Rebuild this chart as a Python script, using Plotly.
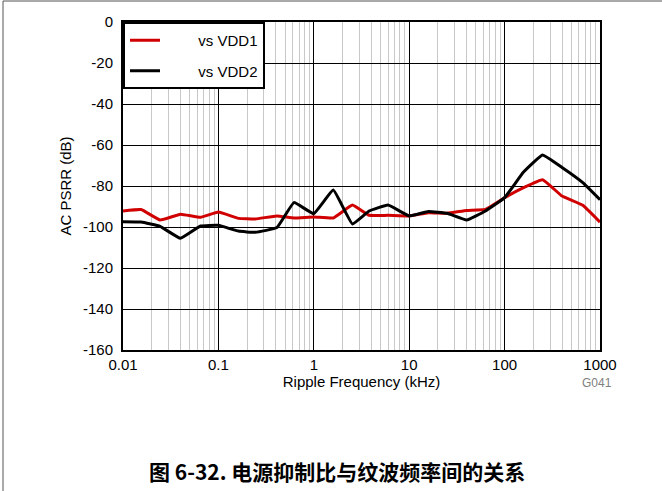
import plotly.graph_objects as go

# Data (frequency in kHz, PSRR in dB)
freq_khz = [0.01, 0.0155, 0.0245, 0.04, 0.065, 0.1, 0.162, 0.244, 0.41, 0.62, 1.0,
            1.6, 2.54, 3.8, 6.0, 10, 15.9, 25, 40, 63, 100, 158, 250, 400, 660, 1000]
psrr_vdd1 = [-92.2, -91.5, -96.6, -93.8, -95.3, -92.7, -95.8, -96.1, -94.6, -95.6, -95.1,
             -95.6, -89.3, -94.3, -94.3, -94.6, -93.0, -93.3, -91.9, -91.4, -85.7, -80.8,
             -76.9, -84.9, -89.4, -97.6]
psrr_vdd2 = [-97.4, -97.6, -99.7, -105.5, -99.5, -99.2, -102.0, -102.6, -100.3, -88.1, -93.5,
             -82.0, -98.5, -92.2, -89.3, -94.6, -92.4, -93.3, -96.6, -92.2, -85.7, -73.2,
             -64.9, -71.0, -78.4, -86.7]

series_names = ["vs VDD1", "vs VDD2"]
series_colors = ["#d10000", "#000000"]

x_tickvals = [0.01, 0.1, 1, 10, 100, 1000]
x_ticktext = ["0.01", "0.1", "1", "10", "100", "1000"]
y_tickvals = [0, -20, -40, -60, -80, -100, -120, -140, -160]
y_ticktext = ["0", "-20", "-40", "-60", "-80", "-100", "-120", "-140", "-160"]
minor_vals = [m * 10 ** e for e in range(-2, 3) for m in range(2, 10)]

FONT = "Liberation Sans, Arial, sans-serif"
NB = "\u00a0"

fig = go.Figure()
for name, ys, col in zip(series_names, [psrr_vdd1, psrr_vdd2], series_colors):
    fig.add_trace(go.Scatter(x=freq_khz, y=ys, mode="lines", name=NB * 8 + name,
                             legendgroup=name,
                             line=dict(color=col, width=3, shape="spline", smoothing=0.3)))

fig.update_layout(
    width=662, height=491,
    margin=dict(l=123, r=62, t=22, b=141),
    paper_bgcolor="white", plot_bgcolor="white",
    font=dict(family=FONT, size=15, color="black"),
    showlegend=True,
    legend=dict(x=0, y=1, xanchor="left", yanchor="top",
                bgcolor="white", bordercolor="black", borderwidth=2,
                font=dict(family=FONT, size=15), tracegroupgap=8,
                entrywidth=114, entrywidthmode="pixels"),
    xaxis=dict(type="log", range=[-2, 3], tickvals=x_tickvals, ticktext=x_ticktext,
               showgrid=True, gridcolor="black", gridwidth=1.4,
               showline=True, linecolor="black", linewidth=2, mirror=True,
               ticks="", zeroline=False, ticklabelstandoff=0,
               title=dict(text="Ripple Frequency (kHz)", font=dict(size=15), standoff=2),
               minor=dict(tickvals=minor_vals, showgrid=True, gridcolor="#c8c8c8",
                          gridwidth=1, ticks="")),
    yaxis=dict(range=[-160, 0], tickvals=y_tickvals, ticktext=y_ticktext,
               showgrid=True, gridcolor="black", gridwidth=1.4,
               showline=True, linecolor="black", linewidth=2, mirror=True,
               ticks="", zeroline=False, ticklabelstandoff=5,
               title=dict(text="AC PSRR (dB)", font=dict(size=15), standoff=8)),
)

fig.add_annotation(text="G041", xref="paper", yref="paper", x=(614 - 123) / 477,
                   y=1 - (383 - 22) / 328,
                   xanchor="right", yanchor="middle", showarrow=False,
                   font=dict(family=FONT, size=12, color="#808080"))
fig.add_annotation(text="<b>图 6-32. 电源抑制比与纹波频率间的关系</b>",
                   xref="paper", yref="paper", x=(337 - 123) / 477, y=1 - (471 - 22) / 328,
                   xanchor="center", yanchor="middle", showarrow=False,
                   font=dict(family="Noto Sans CJK SC, sans-serif", size=21, color="black"))
# outer frame lines of the page
fig.add_shape(type="line", xref="paper", yref="paper",
              x0=(3 - 123) / 477, x1=(662 - 123) / 477, y0=1 + 21 / 328, y1=1 + 21 / 328,
              line=dict(color="#555555", width=1))
fig.add_shape(type="line", xref="paper", yref="paper",
              x0=(3 - 123) / 477, x1=(3 - 123) / 477, y0=1 + 21 / 328, y1=1 - (491 - 22) / 328,
              line=dict(color="#555555", width=1))

fig.write_html("out.html", config={"displayModeBar": False},
               post_script="document.body.style.margin='0px';")
